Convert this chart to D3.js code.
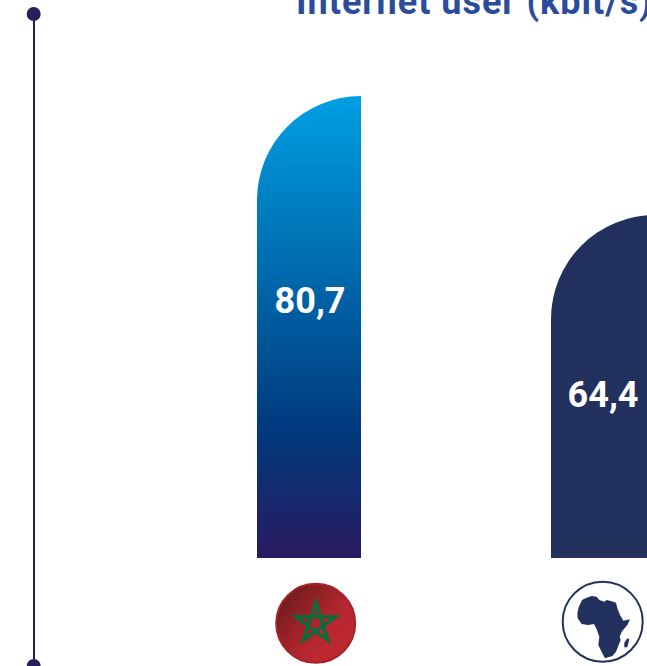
<!DOCTYPE html>
<html lang="en">
<head>
    <meta charset="UTF-8">
    <title>Internet user (kbit/s)</title>
    <script src="https://d3js.org/d3.v7.min.js"></script>
    <style>
        html, body { margin: 0; padding: 0; background: #fff; overflow: hidden; }
        svg { display: block; }
    </style>
</head>
<body>
    <div id="chart"></div>
    <script>
        // chart data
        const categories = ["Morocco", "Africa"];
        const values = [80.7, 64.4];
        const valueLabels = ["80,7", "64,4"];
        const chartTitle = "Internet user (kbit/s)";

        const width = 647, height = 666;
        const barTop = 96, barBottom = 558;
        const barWidth = 104, barStep = 294;
        const labelX = [53, 52];
        const labelY = [300, 394];
        const fontName = "Roboto, 'DejaVu Sans', sans-serif";

        const svg = d3.select("#chart")
            .append("svg")
            .attr("width", width)
            .attr("height", height);

        const defs = svg.append("defs");

        // gradient for the Morocco bar
        const barGrad = defs.append("linearGradient")
            .attr("id", "barGrad")
            .attr("x1", 0).attr("y1", 0).attr("x2", 0).attr("y2", 1);
        barGrad.append("stop").attr("offset", "0%").attr("stop-color", "#009fe3");
        barGrad.append("stop").attr("offset", "72%").attr("stop-color", "#003a7d");
        barGrad.append("stop").attr("offset", "100%").attr("stop-color", "#2a1a60");

        // gradient for the flag disc
        const flagGrad = defs.append("linearGradient")
            .attr("id", "flagGrad")
            .attr("x1", 0.1).attr("y1", 0.1).attr("x2", 0.8).attr("y2", 0.7);
        flagGrad.append("stop").attr("offset", "0%").attr("stop-color", "#6e1a1d");
        flagGrad.append("stop").attr("offset", "75%").attr("stop-color", "#b6272f");
        flagGrad.append("stop").attr("offset", "100%").attr("stop-color", "#bc2830");

        // scales: the picture's bars start from a raised baseline, not from zero
        const x = d3.scaleBand()
            .domain(categories)
            .range([257, 257 + barStep + barWidth])
            .paddingInner((barStep - barWidth) / barStep)
            .paddingOuter(0);

        const y = d3.scaleLinear()
            .domain([17.4, 80.7])
            .range([barBottom, barTop]);

        // vertical line with its two dots
        svg.append("line")
            .attr("x1", 34).attr("x2", 34)
            .attr("y1", 14).attr("y2", 666)
            .attr("stroke", "#2a1d5e")
            .attr("stroke-width", 2);
        svg.selectAll("circle.end")
            .data([14, 666])
            .enter()
            .append("circle")
            .attr("class", "end")
            .attr("cx", 33.7)
            .attr("cy", d => d)
            .attr("r", 7)
            .attr("fill", "#2a1d5e");

        // title, cut off by the top and right of the page as in the picture
        svg.append("text")
            .attr("x", 296)
            .attr("y", 14)
            .attr("font-family", fontName)
            .attr("font-weight", 700)
            .attr("font-size", 36)
            .attr("letter-spacing", 1)
            .attr("fill", "#2b4c9b")
            .text(chartTitle);

        // bars with rounded top left corner
        function barPath(cat, value) {
            const p = d3.path();
            const x0 = x(cat), x1 = x0 + x.bandwidth(), top = y(value), r = x.bandwidth();
            p.moveTo(x0, barBottom);
            p.lineTo(x0, top + r);
            p.arc(x1, top + r, r, Math.PI, 1.5 * Math.PI);
            p.lineTo(x1, barBottom);
            p.closePath();
            return p.toString();
        }

        svg.selectAll("path.bar")
            .data(categories)
            .enter()
            .append("path")
            .attr("class", "bar")
            .attr("d", (d, i) => barPath(d, values[i]))
            .attr("fill", (d, i) => i === 0 ? "url(#barGrad)" : "#21305c");

        svg.selectAll("text.value")
            .data(categories)
            .enter()
            .append("text")
            .attr("class", "value")
            .attr("x", (d, i) => x(d) + labelX[i])
            .attr("y", (d, i) => labelY[i])
            .attr("dy", "0.36em")
            .attr("text-anchor", "middle")
            .attr("font-family", fontName)
            .attr("font-weight", 700)
            .attr("font-size", 36)
            .attr("fill", "#fff")
            .text((d, i) => valueLabels[i]);

        // Morocco flag badge
        const flag = svg.append("g").attr("transform", "translate(315.7,623.3)");
        flag.append("circle")
            .attr("r", 39.5)
            .attr("fill", "url(#flagGrad)")
            .attr("stroke", "#a3242b")
            .attr("stroke-width", 2);
        const starPts = d3.range(5).map(i => {
            const a = -Math.PI / 2 + i * 2 * 2 * Math.PI / 5;
            return [21 * Math.cos(a), 21 * Math.sin(a)];
        });
        flag.append("path")
            .attr("d", d3.line()(starPts) + "Z")
            .attr("fill", "none")
            .attr("stroke", "#0c6b3a")
            .attr("stroke-width", 3.4)
            .attr("stroke-linejoin", "miter");

        // Africa badge
        const africaOutline = [[22,70],[26,52],[36,30],[48,24],[65,18],[80,20],[88,30],[103,35],[110,30],[125,34],[138,38],[142,55],[150,75],[160,92],[180,88],[172,105],[155,125],[149,140],[152,150],[146,165],[138,185],[127,198],[105,205],[97,190],[85,165],[88,140],[80,118],[72,102],[55,105],[35,102],[23,85]];
        const madagascar = [[172,145],[178,148],[172,172],[163,172],[163,158]];
        const toPage = d => [570 + d[0] / 3, 590 + d[1] / 3];

        svg.append("circle")
            .attr("cx", 602.7)
            .attr("cy", 621.7)
            .attr("r", 40)
            .attr("fill", "#fff")
            .attr("stroke", "#21305c")
            .attr("stroke-width", 2);
        svg.selectAll("path.land")
            .data([africaOutline, madagascar])
            .enter()
            .append("path")
            .attr("class", "land")
            .attr("d", d => d3.line()(d.map(toPage)) + "Z")
            .attr("fill", "#21305c");
    </script>
</body>
</html>
